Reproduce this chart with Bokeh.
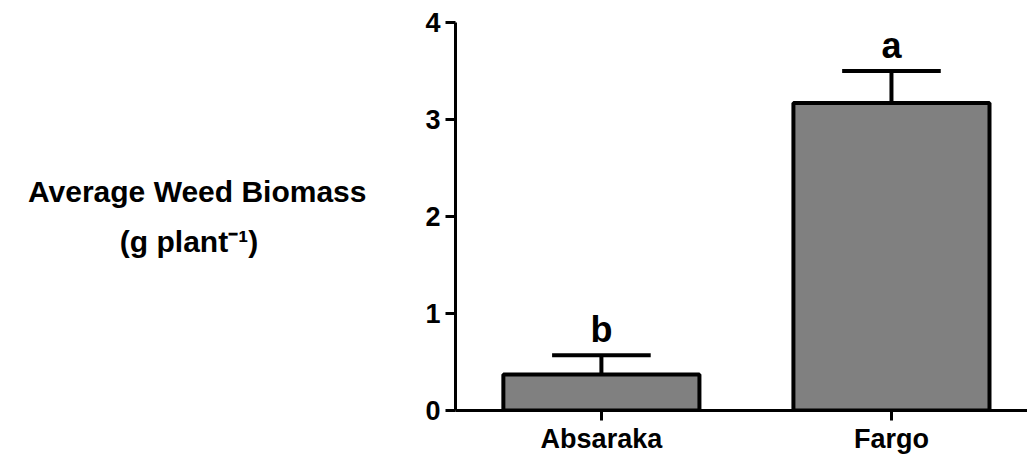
from bokeh.plotting import figure
from bokeh.models import Range1d, FixedTicker
from bokeh.embed import file_html
from bokeh.resources import INLINE
from bokeh.core.properties import value

# ---- data ----
categories = ["Absaraka", "Fargo"]
means = [0.37, 3.17]
errors = [0.20, 0.33]
letters = ["b", "a"]
y_ticks = [0, 1, 2, 3, 4]
y_title_line1 = "Average Weed Biomass"
y_title_line2 = "(g plant\u207b\u00b9)"

positions = list(range(len(categories)))
tops = [m + e for m, e in zip(means, errors)]

FONT = "Liberation Sans"
BAR_W = 0.676
CAP_HALF = 0.17
# non-breaking spaces so the (right-justified) second title line sits centred
PAD = "\u00a0" * 13

p = figure(width=1027, height=457,
           x_range=Range1d(-0.503, 1.469), y_range=Range1d(0, 4),
           output_backend="svg", toolbar_location=None,
           min_border_left=455, min_border_right=0,
           min_border_top=22, min_border_bottom=47)
p.outline_line_color = None
p.xgrid.visible = False
p.ygrid.visible = False
p.background_fill_color = "white"
p.border_fill_color = "white"

# bars
p.vbar(x=positions, top=means, bottom=0, width=BAR_W,
       fill_color="#808080", line_color="black", line_width=4)
# error bars (upper only)
p.segment(x0=positions, y0=means, x1=positions, y1=tops,
          line_color="black", line_width=4)
p.segment(x0=[x - CAP_HALF for x in positions], y0=tops,
          x1=[x + CAP_HALF for x in positions], y1=tops,
          line_color="black", line_width=4)
# significance letters
p.text(x=positions, y=tops, text=letters, text_align="center",
       text_baseline="alphabetic", y_offset=-26,
       text_font=value(FONT), text_font_style="bold", text_font_size="36px",
       text_color="black")

# axes
for ax in (p.xaxis, p.yaxis):
    ax.axis_line_width = 3
    ax.axis_line_color = "black"
    ax.major_tick_line_width = 3
    ax.major_tick_line_color = "black"
    ax.major_tick_out = 10
    ax.major_tick_in = 0
    ax.minor_tick_line_color = None
    ax.major_label_text_font = FONT
    ax.major_label_text_font_style = "bold"
    ax.major_label_text_font_size = "27px"
    ax.major_label_text_color = "black"

p.xaxis.ticker = FixedTicker(ticks=positions)
p.xaxis.major_label_overrides = {i: c for i, c in zip(positions, categories)}
p.xaxis.major_label_standoff = 3
p.yaxis.ticker = FixedTicker(ticks=y_ticks)
p.yaxis.major_label_standoff = 5

p.yaxis.axis_label = y_title_line1 + "\n" + y_title_line2 + PAD
p.yaxis.axis_label_orientation = "horizontal"
p.yaxis.axis_label_text_font = FONT
p.yaxis.axis_label_text_font_style = "bold"
p.yaxis.axis_label_text_font_size = "30px"
p.yaxis.axis_label_text_color = "black"
p.yaxis.axis_label_text_align = "center"
p.yaxis.axis_label_text_line_height = 1.5
p.yaxis.axis_label_standoff = 56

open("out.html", "w").write(file_html(p, INLINE))
